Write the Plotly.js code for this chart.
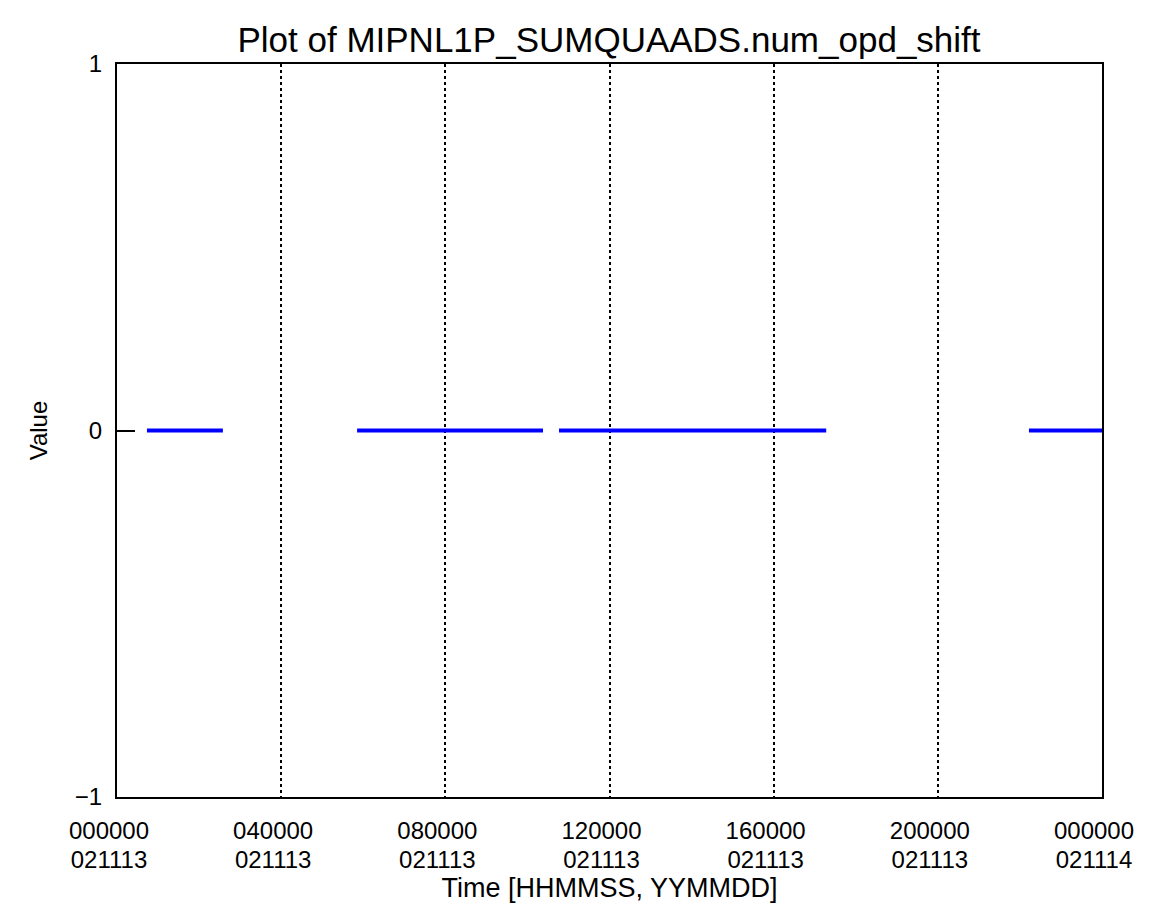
<!DOCTYPE html>
<html>
<head>
<meta charset="utf-8">
<script src="https://cdn.plot.ly/plotly-3.0.1.min.js"></script>
<style>html,body{margin:0;padding:0;background:#fff;}#chart{width:1160px;height:922px;}</style>
</head>
<body>
<div id="chart"></div>
<script>
// Time in hours since 000000 021113; null separates data gaps
const timeHours = [0.73, 2.58, null, 5.85, 10.38, null, 10.77, 17.28, null, 22.22, 24.0];
const values    = [0, 0, null, 0, 0, null, 0, 0, null, 0, 0];
const tickHours = [0, 4, 8, 12, 16, 20, 24];
const tickTimeLabels = ["000000", "040000", "080000", "120000", "160000", "200000", "000000"];
const tickDateLabels = ["021113", "021113", "021113", "021113", "021113", "021113", "021114"];
const yTicks = [-1, 0, 1];
const yTickLabels = ["\u22121", "0", "1"];

const fontFam = "Liberation Sans, Arial, sans-serif";
const H = 922, T = 64, B = 16;            // figure height and margins
const plotH = H - T - B;                  // paper height in px
const frac = (py) => (H - B - py) / plotH; // pixel row -> paper fraction

const trace = {
  x: timeHours, y: values, type: 'scatter', mode: 'lines',
  line: {color: '#0000ff', width: 4}, connectgaps: false, hoverinfo: 'skip'
};
// invisible helper traces so the label-row axes are drawn
const helper2 = {x: [0, 24], y: [null, null], xaxis: 'x2', yaxis: 'y', type: 'scatter', mode: 'lines', hoverinfo: 'skip'};
const helper3 = {x: [0, 24], y: [null, null], xaxis: 'x3', yaxis: 'y', type: 'scatter', mode: 'lines', hoverinfo: 'skip'};
const tf = () => ({family: fontFam, size: 24, color: '#000'});
const layout = {
  width: 1160, height: H,
  margin: {l: 117, r: 58, t: T, b: B},
  paper_bgcolor: '#ffffff', plot_bgcolor: '#ffffff',
  showlegend: false,
  title: {text: 'Plot of MIPNL1P_SUMQUAADS.num_opd_shift', x: 0.525, xanchor: 'center', y: 0.957, yanchor: 'middle',
          font: {family: fontFam, size: 35, color: '#000'}},
  xaxis: {
    range: [0, 24], tickmode: 'array', tickvals: tickHours, showticklabels: false,
    showgrid: true, gridcolor: '#000', gridwidth: 2, griddash: '3px,3px',
    showline: true, linecolor: '#000', linewidth: 2, mirror: true,
    ticks: '', zeroline: false
  },
  xaxis2: {
    overlaying: 'x', side: 'bottom', anchor: 'free', position: frac(814),
    range: [0, 24], tickmode: 'array', tickvals: tickHours, ticktext: tickTimeLabels,
    showgrid: false, showline: false, zeroline: false, ticks: '', ticklen: 0, ticklabelshift: -8,
    tickfont: tf()
  },
  xaxis3: {
    overlaying: 'x', side: 'bottom', anchor: 'free', position: frac(843),
    range: [0, 24], tickmode: 'array', tickvals: tickHours, ticktext: tickDateLabels,
    showgrid: false, showline: false, zeroline: false, ticks: '', ticklen: 0, ticklabelshift: -8,
    tickfont: tf(),
    title: {text: 'Time [HHMMSS, YYMMDD]', font: {family: fontFam, size: 27, color: '#000'}, standoff: 2}
  },
  yaxis: {
    domain: [frac(797), 1], layer: 'below traces',
    range: [-1, 1], tickmode: 'array', tickvals: yTicks, ticktext: yTickLabels,
    showgrid: false, zeroline: false,
    showline: true, linecolor: '#000', linewidth: 2, mirror: 'ticks',
    ticks: 'inside', ticklen: 18, tickwidth: 2, tickcolor: '#000', ticklabelstandoff: 8,
    tickfont: tf(),
    title: {text: 'Value', font: {family: fontFam, size: 24, color: '#000'}, standoff: 20}
  }
};
Plotly.newPlot('chart', [trace, helper2, helper3], layout, {staticPlot: true, displayModeBar: false});
</script>
</body>
</html>
